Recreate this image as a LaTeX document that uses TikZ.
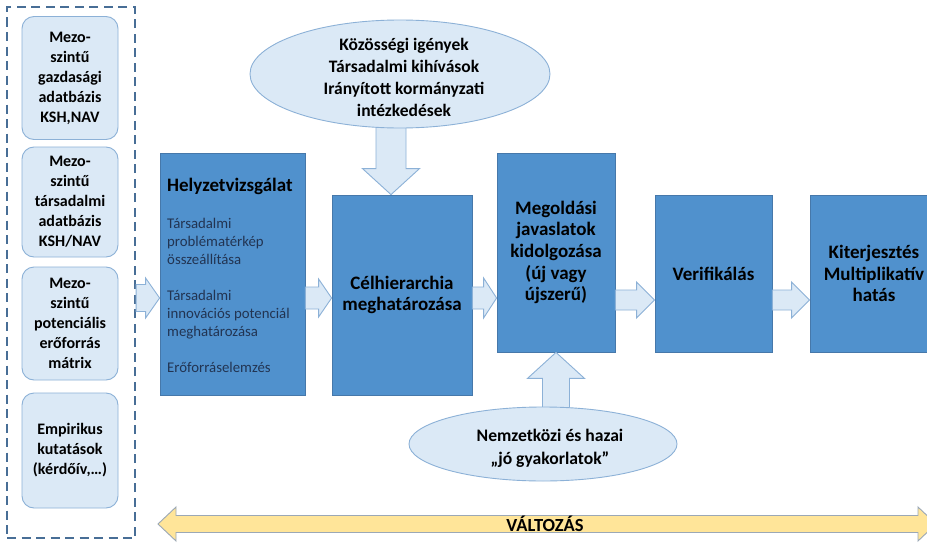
\documentclass[tikz,border=0pt]{standalone}
\usepackage{fontspec}
\setmainfont{Carlito}
\usetikzlibrary{calc,shapes.geometric}

\definecolor{stepblue}{RGB}{80,145,205}
\definecolor{stepedge}{RGB}{70,120,170}
\definecolor{paleblue}{RGB}{219,233,246}
\definecolor{paleedge}{RGB}{140,177,215}
\definecolor{changefill}{RGB}{255,229,153}
\definecolor{changeedge}{RGB}{155,168,182}
\definecolor{frameblue}{RGB}{72,110,150}
\definecolor{subtext}{RGB}{34,52,82}

\tikzset{
  stepbox/.style={draw=stepedge, fill=stepblue, line width=0.8pt, inner sep=0pt,
    align=center, font=\fontsize{19}{21.7}\selectfont\bfseries},
  sourcebox/.style={draw=paleedge, fill=paleblue, rounded corners=12pt, line width=0.9pt,
    minimum width=96pt, inner sep=0pt, align=center,
    font=\fontsize{16}{20}\selectfont\bfseries},
  inputell/.style={ellipse, draw=paleedge, fill=paleblue, line width=0.9pt, inner sep=0pt},
  elltext/.style={align=center, inner sep=0pt},
  flowarrow/.style={draw=paleedge, fill=paleblue, line width=0.9pt, line join=miter},
  changearrow/.style={draw=changeedge, fill=changefill, line width=0.9pt, line join=miter},
  sourceframe/.style={draw=frameblue, line width=2.2pt, dash pattern=on 9pt off 5.5pt,
    inner sep=0pt},
}

% block arrows: #1 tail, #2 tip, #3 shaft half width, #4 head half width, #5 head length
\newcommand\rightblock[5]{%
  \draw[flowarrow] let \p1=(#1), \p2=(#2) in
    (\x1,\y2+#3) -- (\x2-#5,\y2+#3) -- (\x2-#5,\y2+#4) -- (\x2,\y2)
    -- (\x2-#5,\y2-#4) -- (\x2-#5,\y2-#3) -- (\x1,\y2-#3) -- cycle;}
\newcommand\downblock[5]{%
  \draw[flowarrow] let \p1=(#1), \p2=(#2) in
    (\x2-#3,\y1) -- (\x2-#3,\y2+#5) -- (\x2-#4,\y2+#5) -- (\x2,\y2)
    -- (\x2+#4,\y2+#5) -- (\x2+#3,\y2+#5) -- (\x2+#3,\y1) -- cycle;}
\newcommand\upblock[5]{%
  \draw[flowarrow] let \p1=(#1), \p2=(#2) in
    (\x2-#3,\y1) -- (\x2-#3,\y2-#5) -- (\x2-#4,\y2-#5) -- (\x2,\y2)
    -- (\x2+#4,\y2-#5) -- (\x2+#3,\y2-#5) -- (\x2+#3,\y1) -- cycle;}

\begin{document}
\begin{tikzpicture}[x=1pt, y=-1pt]
\useasboundingbox (0,0) rectangle (927,546);
\clip (0,0) rectangle (927,546);
\fill[white] (0,0) rectangle (927,546);

% data sources on the left
\node[sourceframe, minimum width=128pt, minimum height=531pt] (sources) at (71,272.5) {};
\node[sourcebox, minimum height=123pt] (src1) at (70,78)
  {Mezo-\\szintű\\gazdasági\\adatbázis\\KSH,NAV};
\node[sourcebox, minimum height=110pt] (src2) at (70,202)
  {Mezo-\\szintű\\társadalmi\\adatbázis\\KSH/NAV};
\node[sourcebox, minimum height=113pt] (src3) at (70,323.5)
  {Mezo-\\szintű\\potenciális\\erőforrás\\mátrix};
\node[sourcebox, minimum height=115pt] (src4) at (70,450.5)
  {Empirikus\\kutatások\\(kérdőív,…)};

% process steps
\node[stepbox, minimum width=145pt, minimum height=242pt] (survey) at (232.5,274) {};
\node[anchor=base west, inner sep=0pt, font=\fontsize{19}{21}\selectfont\bfseries]
  (surveyhead) at (167,191) {Helyzetvizsgálat};
\node[anchor=north west, align=left, inner sep=0pt, text=subtext,
  font=\fontsize{14.8}{18}\selectfont] (surveybody) at (167,218)
  {Társadalmi\\problématérkép\\összeállítása\\[18pt]
   Társadalmi\\innovációs potenciál\\meghatározása\\[18pt]
   Erőforráselemzés};
\node[stepbox, minimum width=140pt, minimum height=200pt] (goal) at (402,295)
  {Célhierarchia\\meghatározása};
\node[stepbox, minimum width=118pt, minimum height=199pt] (solution) at (556,252.5)
  {Megoldási\\javaslatok\\kidolgozása\\(új vagy\\újszerű)};
\node[stepbox, minimum width=117pt, minimum height=157pt] (verify) at (713.5,273.5)
  {Verifikálás};
\node[stepbox, minimum width=128pt, minimum height=157pt] (spread) at (874,273.5)
  {Kiterjesztés\\Multiplikatív\\hatás};

% flow between the steps
\coordinate (flow) at (0,298);
\coordinate (flowb) at (0,300);
\rightblock{sources.east |- flow}{survey.west |- flow}{13.5}{20}{14}
\rightblock{survey.east |- flow}{goal.west |- flow}{11}{19}{13}
\rightblock{goal.east |- flow}{solution.west |- flow}{11}{20}{13}
\rightblock{solution.east |- flowb}{verify.west |- flowb}{10}{18}{18}
\rightblock{verify.east |- flowb}{spread.west |- flowb}{10}{18}{18}

% external inputs
\coordinate (needs) at (400,74);
\coordinate (practice) at (543,444);
\coordinate (downtail) at (391,122);
\downblock{downtail}{goal.north -| downtail}{15}{28.5}{26}
\upblock{practice -| solution.south}{solution.south}{13.5}{28.5}{26}
\node[inputell, minimum width=300pt, minimum height=108pt] (needsell) at (needs) {};
\node[elltext, font=\fontsize{17.5}{22}\selectfont\bfseries] (needstext) at ($(needs)+(4,3)$)
  {Közösségi igények\\Társadalmi kihívások\\Irányított kormányzati\\intézkedések};
\node[inputell, minimum width=268pt, minimum height=74pt] (practiceell) at (practice) {};
\node[elltext, font=\fontsize{17.6}{23}\selectfont\bfseries] (practicetext)
  at ($(practice)+(7,4)$) {Nemzetközi és hazai\\„jó gyakorlatok”};

% change along the whole process
\coordinate (changeL) at (158,524);
\coordinate (changeR) at (936,524);
\draw[changearrow] let \p1=(changeL), \p2=(changeR) in
  (\x1,\y1) -- (\x1+18,\y1+17) -- (\x1+18,\y1+8.5) -- (\x2-18,\y1+8.5)
  -- (\x2-18,\y1+17) -- (\x2,\y1) -- (\x2-18,\y1-17) -- (\x2-18,\y1-8.5)
  -- (\x1+18,\y1-8.5) -- (\x1+18,\y1-17) -- cycle;
\node[font=\fontsize{18.5}{20}\selectfont\bfseries] (change) at (545,524) {VÁLTOZÁS};
\end{tikzpicture}
\end{document}
